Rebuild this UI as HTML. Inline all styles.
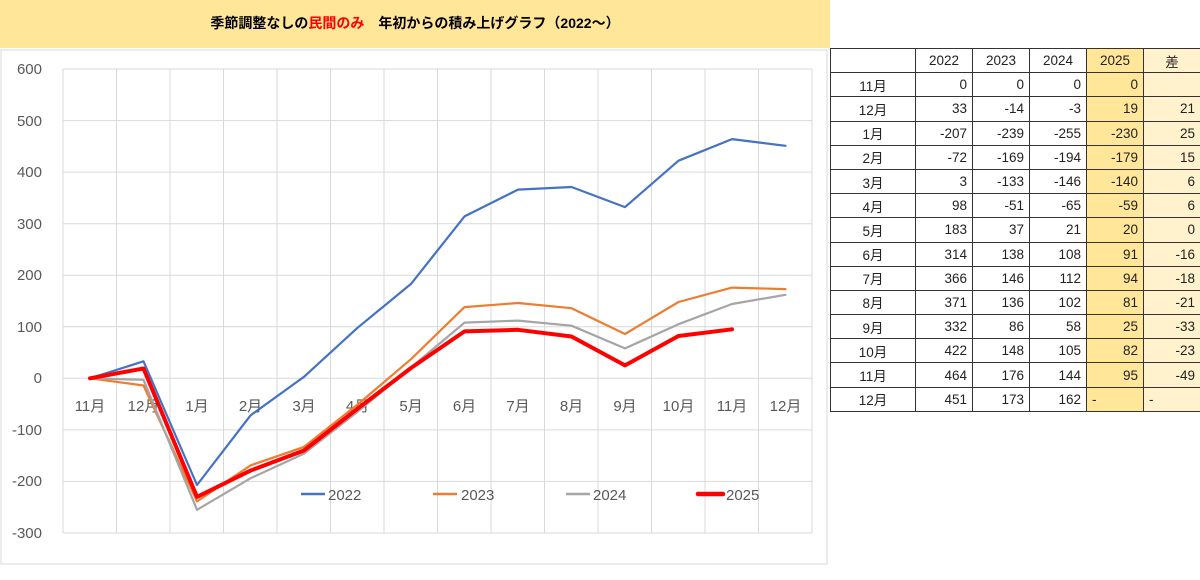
<!DOCTYPE html>
<html><head><meta charset="utf-8"><style>
body{margin:0;width:1200px;height:580px;background:#fff;position:relative;overflow:hidden;font-family:"Liberation Sans","Noto Sans CJK JP",sans-serif;}
#title{position:absolute;left:0;top:0;width:830px;height:48px;background:#FFE699;text-align:center;line-height:46px;font-size:14px;font-weight:bold;color:#000;}
#title span{color:#ff0000}
table{position:absolute;left:830px;top:48px;width:370px;table-layout:fixed;border-collapse:collapse;font-size:13.5px;color:#222;}
td{border:1.5px solid #333;height:24.2px;padding:0 5px;text-align:right;box-sizing:border-box;}
td:first-child{text-align:center;}
tr:first-child td{text-align:center;}
td.y{background:#FFE699;} td.d{background:#FFF2CC;}
</style></head><body>
<div id="title">季節調整なしの<span>民間のみ</span>　年初からの積み上げグラフ（2022～）</div>
<svg width="830" height="580" style="position:absolute;left:0;top:0">
<rect x="1" y="50" width="826" height="514" fill="#fff" stroke="#d9d9d9"/>
<g stroke="#d9d9d9" stroke-width="1">
<line x1="63" y1="69" x2="812" y2="69"/><line x1="63" y1="120.6" x2="812" y2="120.6"/><line x1="63" y1="172.1" x2="812" y2="172.1"/><line x1="63" y1="223.7" x2="812" y2="223.7"/><line x1="63" y1="275.2" x2="812" y2="275.2"/><line x1="63" y1="326.8" x2="812" y2="326.8"/><line x1="63" y1="378.3" x2="812" y2="378.3"/><line x1="63" y1="429.9" x2="812" y2="429.9"/><line x1="63" y1="481.4" x2="812" y2="481.4"/><line x1="63" y1="533" x2="812" y2="533"/>
<line x1="63" y1="69" x2="63" y2="533"/><line x1="116.5" y1="69" x2="116.5" y2="533"/><line x1="170" y1="69" x2="170" y2="533"/><line x1="223.5" y1="69" x2="223.5" y2="533"/><line x1="277" y1="69" x2="277" y2="533"/><line x1="330.5" y1="69" x2="330.5" y2="533"/><line x1="384" y1="69" x2="384" y2="533"/><line x1="437.5" y1="69" x2="437.5" y2="533"/><line x1="491" y1="69" x2="491" y2="533"/><line x1="544.5" y1="69" x2="544.5" y2="533"/><line x1="598" y1="69" x2="598" y2="533"/><line x1="651.5" y1="69" x2="651.5" y2="533"/><line x1="705" y1="69" x2="705" y2="533"/><line x1="758.5" y1="69" x2="758.5" y2="533"/><line x1="812" y1="69" x2="812" y2="533"/>
</g>
<g font-size="15" fill="#595959" text-anchor="end">
<text x="42" y="74">600</text><text x="42" y="126">500</text><text x="42" y="177">400</text><text x="42" y="229">300</text><text x="42" y="280">200</text><text x="42" y="332">100</text><text x="42" y="383">0</text><text x="42" y="435">-100</text><text x="42" y="486">-200</text><text x="42" y="538">-300</text>
</g>
<g font-size="15" fill="#595959" text-anchor="middle">
<text x="90" y="411">11月</text><text x="143.5" y="411">12月</text><text x="197" y="411">1月</text><text x="250.5" y="411">2月</text><text x="304" y="411">3月</text><text x="357.5" y="411">4月</text><text x="411" y="411">5月</text><text x="464.5" y="411">6月</text><text x="518" y="411">7月</text><text x="571.5" y="411">8月</text><text x="625" y="411">9月</text><text x="678.5" y="411">10月</text><text x="732" y="411">11月</text><text x="785.5" y="411">12月</text>
</g>
<g fill="none" stroke-linejoin="round" stroke-linecap="round">
<polyline stroke="#4472C4" stroke-width="2.2" points="90,378.3 143.5,361.3 197,485 250.5,415.4 304,376.8 357.5,327.8 411,283.9 464.5,216.4 518,189.6 571.5,187 625,207.1 678.5,160.7 732,139.1 785.5,145.8"/>
<polyline stroke="#ED7D31" stroke-width="2.2" points="90,378.3 143.5,385.5 197,501.5 250.5,465.4 304,446.9 357.5,404.6 411,359.2 464.5,307.1 518,303 571.5,308.2 625,334 678.5,302 732,287.6 785.5,289.1"/>
<polyline stroke="#A5A5A5" stroke-width="2.2" points="90,378.3 143.5,379.8 197,509.8 250.5,478.3 304,453.6 357.5,411.8 411,367.5 464.5,322.6 518,320.6 571.5,325.7 625,348.4 678.5,324.2 732,304 785.5,294.8"/>
<polyline stroke="#FF0000" stroke-width="4" points="90,378.3 143.5,368.5 197,496.9 250.5,470.6 304,450.5 357.5,408.7 411,368 464.5,331.4 518,329.8 571.5,336.5 625,365.4 678.5,336 732,329.3"/>
</g>
<g font-size="15" fill="#595959">
<line x1="301" y1="494" x2="325" y2="494" stroke="#4472C4" stroke-width="2.5"/><text x="328" y="500">2022</text>
<line x1="433" y1="494" x2="457" y2="494" stroke="#ED7D31" stroke-width="2.5"/><text x="461" y="500">2023</text>
<line x1="566" y1="494" x2="590" y2="494" stroke="#A5A5A5" stroke-width="2.5"/><text x="593" y="500">2024</text>
<line x1="698" y1="494" x2="723" y2="494" stroke="#FF0000" stroke-width="4.5" stroke-linecap="round"/><text x="726" y="500">2025</text>
</g>
</svg>
<table>
<colgroup><col style="width:85px"><col style="width:57px"><col style="width:57px"><col style="width:57px"><col style="width:57px"><col style="width:57px"></colgroup>
<tr><td></td><td>2022</td><td>2023</td><td>2024</td><td class="y">2025</td><td class="d">差</td></tr>
<tr><td>11月</td><td>0</td><td>0</td><td>0</td><td class="y">0</td><td class="d"></td></tr>
<tr><td>12月</td><td>33</td><td>-14</td><td>-3</td><td class="y">19</td><td class="d">21</td></tr>
<tr><td>1月</td><td>-207</td><td>-239</td><td>-255</td><td class="y">-230</td><td class="d">25</td></tr>
<tr><td>2月</td><td>-72</td><td>-169</td><td>-194</td><td class="y">-179</td><td class="d">15</td></tr>
<tr><td>3月</td><td>3</td><td>-133</td><td>-146</td><td class="y">-140</td><td class="d">6</td></tr>
<tr><td>4月</td><td>98</td><td>-51</td><td>-65</td><td class="y">-59</td><td class="d">6</td></tr>
<tr><td>5月</td><td>183</td><td>37</td><td>21</td><td class="y">20</td><td class="d">0</td></tr>
<tr><td>6月</td><td>314</td><td>138</td><td>108</td><td class="y">91</td><td class="d">-16</td></tr>
<tr><td>7月</td><td>366</td><td>146</td><td>112</td><td class="y">94</td><td class="d">-18</td></tr>
<tr><td>8月</td><td>371</td><td>136</td><td>102</td><td class="y">81</td><td class="d">-21</td></tr>
<tr><td>9月</td><td>332</td><td>86</td><td>58</td><td class="y">25</td><td class="d">-33</td></tr>
<tr><td>10月</td><td>422</td><td>148</td><td>105</td><td class="y">82</td><td class="d">-23</td></tr>
<tr><td>11月</td><td>464</td><td>176</td><td>144</td><td class="y">95</td><td class="d">-49</td></tr>
<tr><td>12月</td><td>451</td><td>173</td><td>162</td><td class="y" style="text-align:left">-</td><td class="d" style="text-align:left">-</td></tr>
</table>
</body></html>
